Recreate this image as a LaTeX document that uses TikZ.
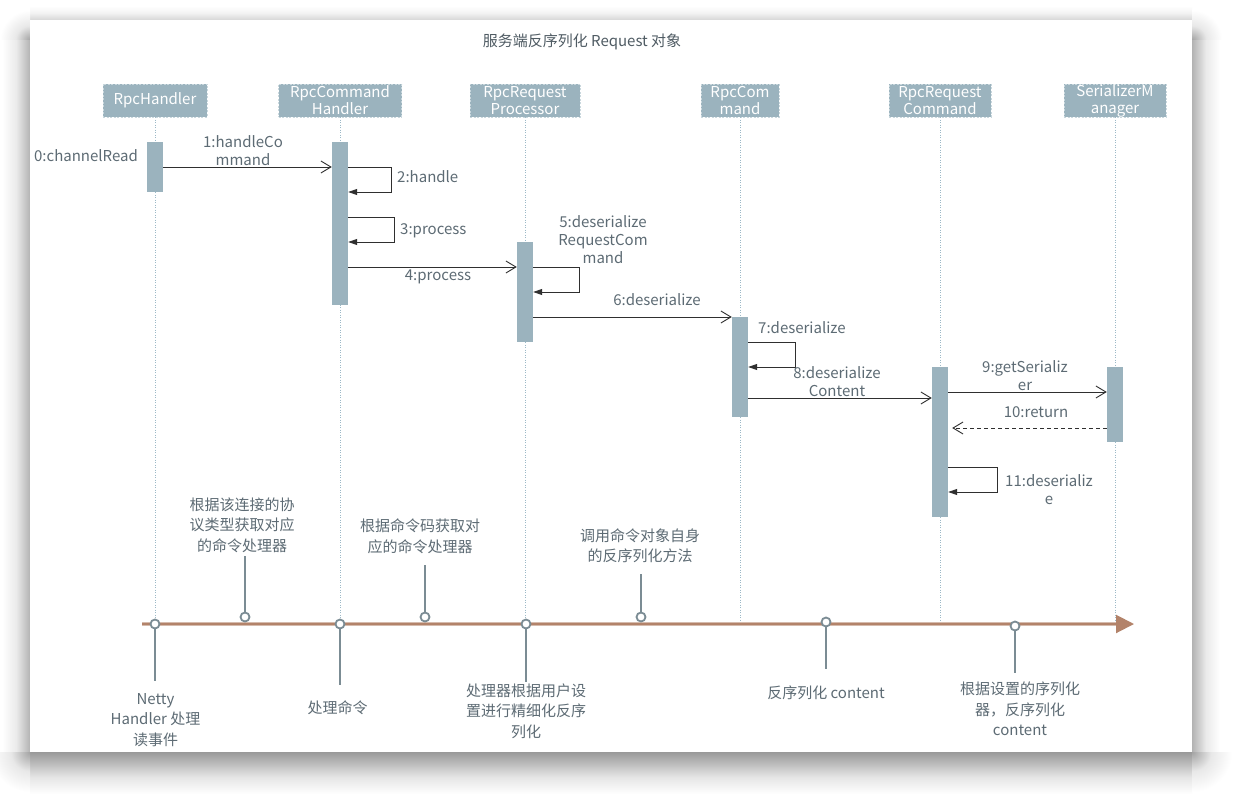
\documentclass[tikz,border=0pt]{standalone}
\usepackage{fontspec}
\setmainfont{Noto Sans CJK SC}
\usetikzlibrary{arrows.meta}

\definecolor{barblue}{HTML}{9BB3BE}
\definecolor{headedge}{HTML}{C9D7DD}
\definecolor{lifeblue}{HTML}{9CB9C7}
\definecolor{labelgray}{HTML}{5D6B74}
\definecolor{msgdark}{HTML}{2F2F2F}
\definecolor{timebrown}{HTML}{B3836A}
\definecolor{markgray}{HTML}{7B8C94}

% soft window shadow (the path is fitted to the middle 25bp--75bp)
\pgfdeclareverticalshading{shadeBottom}{100bp}{color(0bp)=(white); color(25bp)=(white); color(45bp)=(black!10); color(75bp)=(black!40); color(100bp)=(black!40)}
\pgfdeclareverticalshading{shadeTop}{100bp}{color(0bp)=(black!16); color(25bp)=(black!16); color(50bp)=(black!5); color(75bp)=(white); color(100bp)=(white)}
\pgfdeclarehorizontalshading{shadeLeft}{100bp}{color(0bp)=(white); color(25bp)=(white); color(50bp)=(black!8); color(75bp)=(black!30); color(100bp)=(black!30)}
\pgfdeclarehorizontalshading{shadeRight}{100bp}{color(0bp)=(black!30); color(25bp)=(black!30); color(50bp)=(black!8); color(75bp)=(white); color(100bp)=(white)}
\pgfdeclareradialshading{shadeCorner}{\pgfpoint{0bp}{0bp}}{color(0bp)=(black!36); color(12bp)=(black!9); color(25bp)=(white); color(50bp)=(white)}

\begin{document}
\begin{tikzpicture}[x=1pt,y=-1pt]
   \tikzset{HeadStyle/.style={draw=headedge, dash pattern=on 2pt off 1.5pt, line width=0.8pt,
              fill=barblue, text=white, align=center, inner sep=0pt, minimum height=33pt,
              font=\fontsize{15}{17}\selectfont}}
   \tikzset{BarStyle/.style={fill=barblue, minimum width=16pt, inner sep=0pt, anchor=north}}
   \tikzset{LifeStyle/.style={lifeblue, line width=0.7pt, dash pattern=on 1pt off 1.5pt}}
   \tikzset{CallStyle/.style={msgdark, line width=0.9pt, -{Straight Barb[length=10pt,width=12pt]}}}
   \tikzset{SelfStyle/.style={msgdark, line width=0.9pt, -{Triangle[length=9pt,width=6pt]}}}
   \tikzset{ReturnStyle/.style={CallStyle, dash pattern=on 4pt off 3pt, shorten >=4pt}}
   \tikzset{LabelStyle/.style={text=labelgray, align=center, inner sep=0pt,
              font=\fontsize{15}{18}\selectfont}}
   \tikzset{NoteStyle/.style={text=labelgray, align=center, inner sep=0pt,
              font=\fontsize{15}{20.5}\selectfont}}
   \tikzset{MarkStyle/.style={circle, draw=markgray, fill=white, line width=1.8pt,
              minimum size=9pt, inner sep=0pt}}
   \tikzset{StemStyle/.style={markgray, line width=2pt}}
   \useasboundingbox (0,0) rectangle (1233,799);
   % window with its shadow
   \fill[white] (0,0) rectangle (1233,799);
   \shade[shading=shadeBottom] (30,752) rectangle (1192,794);
   \shade[shading=shadeLeft] (2,40) rectangle (30,752);
   \shade[shading=shadeRight] (1192,40) rectangle (1220,752);
   \shade[shading=shadeTop] (30,6) rectangle (1192,20);
   \begin{scope}
      \clip (0,752) rectangle (30,799);
      \shade[shading=shadeCorner] (30,752) circle (40);
   \end{scope}
   \begin{scope}
      \clip (1192,752) rectangle (1233,799);
      \shade[shading=shadeCorner] (1192,752) circle (40);
   \end{scope}
   \begin{scope}
      \clip (0,0) rectangle (30,40);
      \shade[shading=shadeCorner] (30,40) circle (30);
   \end{scope}
   \begin{scope}
      \clip (1192,0) rectangle (1233,40);
      \shade[shading=shadeCorner] (1192,40) circle (30);
   \end{scope}
   \fill[white] (30,20) rectangle (1192,752);
   \node[text=labelgray!85!black, font=\fontsize{15}{18}\selectfont] (title) at (582,42)
      {服务端反序列化 Request 对象};
   % objects
   \node[HeadStyle, minimum width=104pt] (hRH) at (155,100.5) {RpcHandler};
   \node[HeadStyle, minimum width=123pt] (hRCH) at (340,100.5) {RpcCommand\\Handler};
   \node[HeadStyle, minimum width=110pt] (hRRP) at (525,100.5) {RpcRequest\\Processor};
   \node[HeadStyle, minimum width=78pt] (hRC) at (740,100.5) {RpcCom\\mand};
   \node[HeadStyle, minimum width=102pt] (hRRC) at (940,100.5) {RpcRequest\\Command};
   \node[HeadStyle, minimum width=102pt] (hSM) at (1115,100.5) {SerializerM\\anager};
   \coordinate (tlS) at (142,624);
   \coordinate (tlE) at (1134,624);
   \foreach \h in {hRH,hRCH,hRRP,hRC,hRRC,hSM}
      \draw[LifeStyle] (\h.south) -- (\h.south |- tlS);
   % activations
   \node[BarStyle, minimum height=50pt] (bRH) at (155,142) {};
   \node[BarStyle, minimum height=163pt] (bRCH) at (340,142) {};
   \node[BarStyle, minimum height=100pt] (bRRP) at (525,242) {};
   \node[BarStyle, minimum height=100pt] (bRC) at (740,317) {};
   \node[BarStyle, minimum height=150pt] (bRRC) at (940,367) {};
   \node[BarStyle, minimum height=75pt] (bSM) at (1115,367) {};
   % messages
   \foreach \n/\y in {m1/167,m2/192,m3/217,m3e/242,m4/267,m5/292,m6/317,m7/342,m7e/367,
                      m8/398,m9/392,m10/428,m11/467,m11e/492}
      \coordinate (\n) at (0,\y);
   \draw[CallStyle] (bRH.east |- m1) -- (bRCH.west |- m1);
   \draw[SelfStyle] (bRCH.east |- m1) -- ++(43,0) |- (bRCH.east |- m2);
   \draw[SelfStyle] (bRCH.east |- m3) -- ++(46,0) |- (bRCH.east |- m3e);
   \draw[CallStyle] (bRCH.east |- m4) -- (bRRP.west |- m4);
   \draw[SelfStyle] (bRRP.east |- m4) -- ++(46,0) |- (bRRP.east |- m5);
   \draw[CallStyle] (bRRP.east |- m6) -- (bRC.west |- m6);
   \draw[SelfStyle] (bRC.east |- m7) -- ++(47,0) |- (bRC.east |- m7e);
   \draw[CallStyle] (bRC.east |- m8) -- (bRRC.west |- m8);
   \draw[CallStyle] (bRRC.east |- m9) -- (bSM.west |- m9);
   \draw[ReturnStyle] (bSM.west |- m10) -- (bRRC.east |- m10);
   \draw[SelfStyle] (bRRC.east |- m11) -- ++(49,0) |- (bRRC.east |- m11e);
   \node[LabelStyle] (l0) at (86,156) {0:channelRead};
   \node[LabelStyle] (l1) at (243,151) {1:handleCo\\mmand};
   \node[LabelStyle, anchor=west] (l2) at (397,177) {2:handle};
   \node[LabelStyle, anchor=west] (l3) at (400,231) {3:process};
   \node[LabelStyle] (l4) at (438,277) {4:process};
   \node[LabelStyle] (l5) at (603,240) {5:deserialize\\RequestCom\\mand};
   \node[LabelStyle] (l6) at (657,300) {6:deserialize};
   \node[LabelStyle, anchor=west] (l7) at (758,328) {7:deserialize};
   \node[LabelStyle] (l8) at (837,382) {8:deserialize\\Content};
   \node[LabelStyle] (l9) at (1025,376) {9:getSerializ\\er};
   \node[LabelStyle] (l10) at (1036,412) {10:return};
   \node[LabelStyle] (l11) at (1049,490) {11:deserializ\\e};
   % timeline
   \draw[timebrown!55!white, line width=3.6pt] (tlS) -- ([xshift=-16pt]tlE);
   \draw[timebrown, line width=2pt, -{Triangle[length=18pt,width=18pt]}] (tlS) -- (tlE);
   \node[MarkStyle] (k1) at (155,624) {};
   \node[MarkStyle] (k2) at (245,617) {};
   \node[MarkStyle] (k3) at (340,624) {};
   \node[MarkStyle] (k4) at (425,617) {};
   \node[MarkStyle] (k5) at (526,624) {};
   \node[MarkStyle] (k6) at (641,617) {};
   \node[MarkStyle] (k7) at (826,622) {};
   \node[MarkStyle] (k8) at (1015,626) {};
   \foreach \k/\y in {k1/681,k2/556,k3/685,k4/565,k5/682,k6/574,k7/669,k8/673}{
      \coordinate (s\k) at (\k |- 0,\y);
      \draw[StemStyle] (\k) -- (s\k);
   }
   \node[NoteStyle] (n1) at (155.5,720) {Netty\\Handler 处理\\读事件};
   \node[NoteStyle] (n2) at (242,525) {根据该连接的协\\议类型获取对应\\的命令处理器};
   \node[NoteStyle] (n3) at (337.5,708) {处理命令};
   \node[NoteStyle] (n4) at (420,536.5) {根据命令码获取对\\应的命令处理器};
   \node[NoteStyle] (n5) at (526,711) {处理器根据用户设\\置进行精细化反序\\列化};
   \node[NoteStyle] (n6) at (640,545.5) {调用命令对象自身\\的反序列化方法};
   \node[NoteStyle] (n7) at (826,693) {反序列化 content};
   \node[NoteStyle] (n8) at (1020,709) {根据设置的序列化\\器，反序列化\\content};
\end{tikzpicture}
\end{document}
